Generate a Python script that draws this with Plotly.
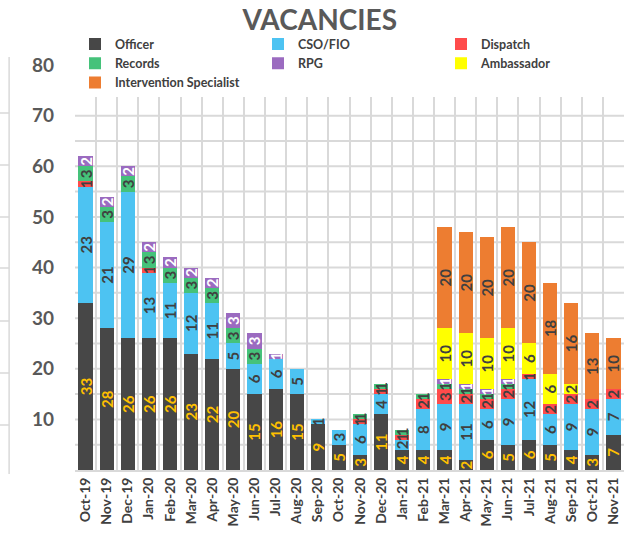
import plotly.graph_objects as go

months = ["Oct-19","Nov-19","Dec-19","Jan-20","Feb-20","Mar-20","Apr-20","May-20","Jun-20",
          "Jul-20","Aug-20","Sep-20","Oct-20","Nov-20","Dec-20","Jan-21","Feb-21","Mar-21",
          "Apr-21","May-21","Jun-21","Jul-21","Aug-21","Sep-21","Oct-21","Nov-21"]

officer      = [33,28,26,26,26,23,22,20,15,16,15,9,5,3,11,4,4,4,2,6,5,6,5,4,3,7]
cso_fio      = [23,21,29,13,11,12,11,5,6,6,5,1,3,6,4,2,8,9,11,6,9,12,6,9,9,7]
dispatch     = [1,0,0,1,0,0,0,0,0,0,0,0,0,1,1,1,2,3,2,2,2,1,2,2,2,2]
records      = [3,3,3,3,3,3,3,3,3,0,0,0,0,1,1,1,1,1,1,1,1,0,0,0,0,0]
rpg          = [2,2,2,2,2,2,2,3,3,1,0,0,0,0,0,0,0,1,1,1,1,0,0,0,0,0]
ambassador   = [0,0,0,0,0,0,0,0,0,0,0,0,0,0,0,0,0,10,10,10,10,6,6,2,0,0]
intervention = [0,0,0,0,0,0,0,0,0,0,0,0,0,0,0,0,0,20,20,20,20,20,18,16,13,10]

series = [
    ("Officer", officer, "#474747", "#FFC000"),
    ("CSO/FIO", cso_fio, "#4DC3F2", "#404040"),
    ("Dispatch", dispatch, "#FF4B4B", "#404040"),
    ("Records", records, "#45C27A", "#404040"),
    ("RPG", rpg, "#9B6BC0", "#FFFFFF"),
    ("Ambassador", ambassador, "#FFFF00", "#404040"),
    ("Intervention Specialist", intervention, "#ED7D31", "#404040"),
]

FONT = "Lato"
fig = go.Figure()
for name, vals, col, tcol in series:
    fig.add_trace(go.Bar(
        x=months, y=[v if v else None for v in vals], name=name,
        marker=dict(color=col, line=dict(width=0)),
        text=[str(v) if v else "" for v in vals],
        textposition="inside", insidetextanchor="middle", textangle=-90,
        textfont=dict(family=FONT, size=15, color=tcol, weight="bold"),
        constraintext="none",
    ))

# ghost border of neighbouring chart on the left
shapes = [dict(type="line", xref="paper", yref="paper", x0=-0.12, x1=-0.12, y0=-0.01, y1=1.02,
               line=dict(color="#D9D9D9", width=1.5))]
for yy in [113, 165, 217, 268, 321, 373, 425]:
    yp = (470 - yy) / 405
    shapes.append(dict(type="line", xref="paper", yref="paper", x0=-0.14, x1=-0.12, y0=yp, y1=yp,
                       line=dict(color="#D9D9D9", width=1.5)))

fig.update_layout(
    barmode="stack", bargap=0.33,
    width=627, height=538,
    margin=dict(l=75, r=3, t=65, b=68),
    paper_bgcolor="white", plot_bgcolor="white",
    uniformtext=dict(minsize=15, mode="show"),
    title=dict(text="<b>VACANCIES</b>", x=0.51, y=0.962, xanchor="center", yanchor="middle",
               font=dict(family=FONT, size=28, color="#595959")),
    legend=dict(orientation="h", x=0.0, y=1.088, xanchor="left", yanchor="top",
                entrywidth=138, entrywidthmode="pixels", traceorder="normal",
                font=dict(family=FONT, size=12.5, color="#404040", weight="bold"),
                itemwidth=30, tracegroupgap=0),
    shapes=shapes,
    showlegend=True,
)
fig.update_xaxes(type="category", tickson="boundaries", showgrid=True, gridcolor="#D9D9D9", gridwidth=2,
                 tickangle=-90, ticks="", showline=True, linecolor="#D9D9D9", linewidth=2,
                 tickfont=dict(family=FONT, size=14, color="#404040", weight="bold"))
fig.update_yaxes(range=[0, 80], tickvals=[10,20,30,40,50,60,70,80], showgrid=False,
                 zeroline=False, ticklabelstandoff=20,
                 tickfont=dict(family=FONT, size=19, color="#595959", weight="bold"))
for g in range(5, 81, 5):
    fig.add_hline(y=g, line=dict(color="#D9D9D9", width=2), layer="below")

fig.write_html("out.html", config={"displayModeBar": False},
               post_script="document.body.style.margin='0';")
